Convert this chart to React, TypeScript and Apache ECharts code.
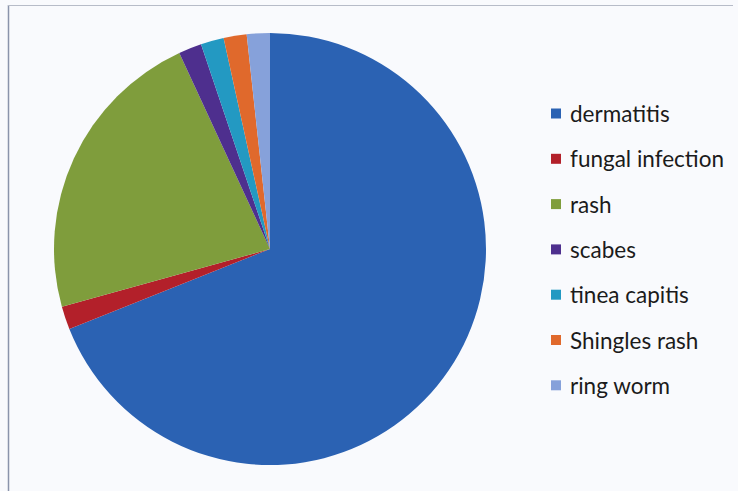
import React, { useEffect, useRef } from "react";
import * as echarts from "echarts";

const categories = [
  "dermatitis",
  "fungal infection",
  "rash",
  "scabes",
  "tinea capitis",
  "Shingles rash",
  "ring worm",
];
const values = [40, 1, 13, 1, 1, 1, 1];
const colors = ["#2b62b3", "#b3202a", "#7f9d3c", "#4e2f8e", "#2399c2", "#e0692c", "#86a1da"];

export default function App() {
  const ref = useRef<HTMLDivElement>(null);
  useEffect(() => {
    document.body.style.margin = "0";
    const chart = echarts.init(ref.current!, null, { renderer: "svg" });
    chart.setOption({
      animation: false,
      backgroundColor: "#f9fafd",
      color: colors,
      legend: {
        orient: "vertical",
        left: 551,
        top: 102,
        padding: 0,
        icon: "rect",
        itemWidth: 10,
        itemHeight: 10,
        itemGap: 22.3,
        data: categories,
        textStyle: {
          fontFamily: "Lato",
          fontSize: 22.5,
          lineHeight: 22,
          color: "#1b1b1b",
          padding: [0, 0, 0, 4],
        },
      },
      graphic: [
        { type: "line", shape: { x1: 8.5, y1: 5, x2: 8.5, y2: 491 }, style: { stroke: "#8a94ab", lineWidth: 1.5 } },
        { type: "line", shape: { x1: 8, y1: 5.5, x2: 733, y2: 5.5 }, style: { stroke: "#b7bcc8", lineWidth: 1 } },
      ],
      series: [
        {
          type: "pie",
          center: [270, 249],
          radius: 216,
          startAngle: 90,
          clockwise: true,
          label: { show: false },
          labelLine: { show: false },
          emphasis: { disabled: true },
          itemStyle: { borderWidth: 0 },
          data: categories.map((name, i) => ({ name, value: values[i] })),
        },
      ],
    });
    return () => chart.dispose();
  }, []);
  return <div ref={ref} style={{ width: 738, height: 491 }} />;
}
